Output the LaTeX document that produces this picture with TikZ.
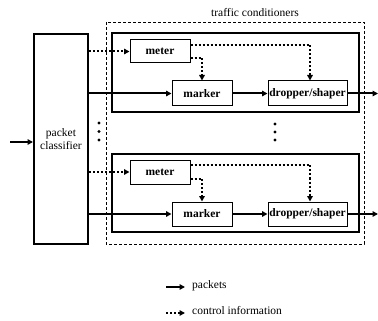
\documentclass[tikz,border=0pt]{standalone}
\usepackage{fontspec}
\setmainfont{Liberation Serif}
\usetikzlibrary{arrows.meta,calc}
\begin{document}
\begin{tikzpicture}[x=1pt,y=-1pt,
  every node/.style={font=\fontsize{11.5}{12.5}\selectfont, inner sep=0pt},
  smallbox/.style={draw, line width=1pt, minimum height=24pt, font=\fontsize{11.5}{12.5}\selectfont\bfseries},
  bigbox/.style={draw, line width=2.2pt},
  pkt/.style={line width=2pt, -{Triangle[length=5.5pt,width=5.5pt]}},
  ctl/.style={line width=2pt, dash pattern=on 2pt off 2pt, -{Triangle[length=5.5pt,width=5.5pt]}},
  dotc/.style={fill=black, circle, minimum size=3.2pt}]
\useasboundingbox (0,0) rectangle (378,321);
% outer dashed
\draw[line width=0.9pt, dash pattern=on 3pt off 2pt] (106,22) rectangle (364,244);
\node (tclabel) at (255,13) {traffic conditioners};
% classifier
\node[draw, line width=2pt, minimum width=54pt, minimum height=210pt, align=center] (cls) at (61,139) {packet\\classifier};
% inner boxes
\draw[bigbox] (112,33) rectangle (359,112);
\draw[bigbox] (112,154) rectangle (359,232);
% top row
\node[smallbox, minimum width=60pt, minimum height=23pt] (m1) at (160,51.5) {meter};
\node[smallbox, minimum width=60pt, minimum height=25pt] (k1) at (202,93.5) {marker};
\node[smallbox, minimum width=79pt, minimum height=25pt] (d1) at (307.5,93.5) {dropper/shaper};
% bottom row
\node[smallbox, minimum width=60pt, minimum height=24pt] (m2) at (160,172) {meter};
\node[smallbox, minimum width=60pt, minimum height=24pt] (k2) at (202,214) {marker};
\node[smallbox, minimum width=79pt, minimum height=24pt] (d2) at (307.5,214) {dropper/shaper};
% input
\coordinate (in) at (10,142);
\draw[pkt] (in) -- (in -| cls.west);
% classifier to rows
\draw[ctl] (cls.east |- m1.west) -- (m1.west);
\draw[pkt] (cls.east |- k1.west) -- (k1.west);
\draw[ctl] (cls.east |- m2.west) -- (m2.west);
\draw[pkt] (cls.east |- k2.west) -- (k2.west);
% meter outputs
\draw[ctl] ($(m1.east)+(0,-6.5)$) -| ([xshift=2.5pt]d1.north);
\draw[ctl] ($(m1.east)+(0,6.5)$) -| (k1.north);
\draw[ctl] ($(m2.east)+(0,-7)$) -| ([xshift=2.5pt]d2.north);
\draw[ctl] ($(m2.east)+(0,6.5)$) -| (k2.north);
% marker to dropper
\draw[pkt] (k1.east) -- (d1.west);
\draw[pkt] (k2.east) -- (d2.west);
% outputs
\coordinate (o1) at (378,93.5);
\coordinate (o2) at (378,214);
\draw[pkt] (d1.east) -- (o1);
\draw[pkt] (d2.east) -- (o2);
% dots
\node[dotc] (la) at (99,123) {};
\node[dotc] (lb) at (99,131.5) {};
\node[dotc] (lc) at (99,140) {};
\node[dotc] (ra) at (275,124) {};
\node[dotc] (rb) at (275,132) {};
\node[dotc] (rc) at (275,140) {};
% legend
\coordinate (l1a) at (166,287);
\coordinate (l1b) at (185,287);
\draw[pkt] (l1a) -- (l1b);
\node[anchor=west] (lt1) at (192,286) {packets};
\coordinate (l2a) at (166,313);
\coordinate (l2b) at (185,313);
\draw[ctl] (l2a) -- (l2b);
\node[anchor=west] (lt2) at (192,311) {control information};
\end{tikzpicture}
\end{document}
